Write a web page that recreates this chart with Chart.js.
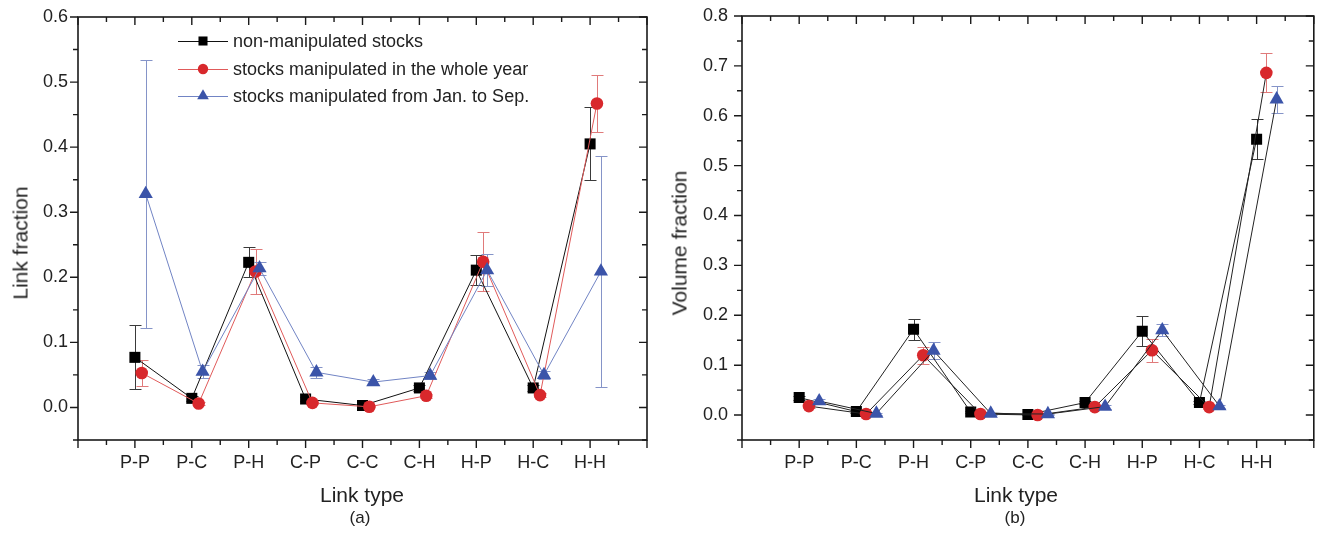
<!DOCTYPE html>
<html>
<head>
<meta charset="utf-8">
<script src="https://cdn.jsdelivr.net/npm/chart.js@4.4.1/dist/chart.umd.min.js"></script>
<style>
  body { margin: 0; background: #fff; width: 1322px; height: 535px; position: relative; overflow: hidden;
         font-family: "Liberation Sans", Arial, sans-serif; color: #222; }
  canvas { position: absolute; top: 0; }
  #chart-a { left: 0; }
  #chart-b { left: 660px; }
  .lbl { position: absolute; white-space: nowrap; line-height: 1; transform: translate(-50%, -50%); }
  .rot { transform: translate(-50%, -50%) rotate(-90deg); }
</style>
</head>
<body>
<canvas id="chart-a" width="660" height="535"></canvas>
<canvas id="chart-b" width="662" height="535"></canvas>

<div class="lbl rot" style="left:20px; top:243px; font-size:21px;">Link fraction</div>
<div class="lbl" style="left:362px; top:494px; font-size:21px;">Link type</div>
<div class="lbl" style="left:360px; top:517px; font-size:17px;">(a)</div>

<div class="lbl rot" style="left:679px; top:243px; font-size:21px;">Volume fraction</div>
<div class="lbl" style="left:1016px; top:494px; font-size:21px;">Link type</div>
<div class="lbl" style="left:1015px; top:517px; font-size:17px;">(b)</div>

<script>
const categories = ['P-P', 'P-C', 'P-H', 'C-P', 'C-C', 'C-H', 'H-P', 'H-C', 'H-H'];
const seriesNames = ['non-manipulated stocks', 'stocks manipulated in the whole year', 'stocks manipulated from Jan. to Sep.'];

// (a) link fraction, value and error per link type
const linkNon     = [0.077, 0.014, 0.223, 0.013, 0.003, 0.030, 0.211, 0.030, 0.405];
const linkNonErr  = [0.049, 0.004, 0.023, 0.003, 0.002, 0.004, 0.023, 0.004, 0.056];
const linkYear    = [0.053, 0.006, 0.209, 0.007, 0.001, 0.018, 0.224, 0.019, 0.467];
const linkYearErr = [0.020, 0.002, 0.034, 0.002, 0.001, 0.003, 0.045, 0.003, 0.044];
const linkSep     = [0.328, 0.055, 0.214, 0.054, 0.039, 0.049, 0.211, 0.050, 0.209];
const linkSepErr  = [0.206, 0.010, 0.010, 0.008, 0.004, 0.005, 0.025, 0.006, 0.177];

// (b) volume fraction
const volNon     = [0.035, 0.007, 0.172, 0.006, 0.001, 0.025, 0.168, 0.025, 0.553];
const volNonErr  = [0.004, 0.002, 0.021, 0.002, 0.001, 0.003, 0.030, 0.003, 0.040];
const volYear    = [0.018, 0.002, 0.120, 0.002, 0.000, 0.016, 0.130, 0.016, 0.686];
const volYearErr = [0.003, 0.001, 0.017, 0.001, 0.001, 0.003, 0.023, 0.003, 0.039];
const volSep     = [0.028, 0.003, 0.129, 0.003, 0.002, 0.017, 0.170, 0.018, 0.633];
const volSepErr  = [0.004, 0.002, 0.017, 0.002, 0.001, 0.004, 0.012, 0.003, 0.027];

const linkTicks = [0.0, 0.1, 0.2, 0.3, 0.4, 0.5, 0.6];
const volTicks  = [0.0, 0.1, 0.2, 0.3, 0.4, 0.5, 0.6, 0.7, 0.8];

// marker look for each series
const styles = [
  { shape: 'rect',     radius: 7.8, color: '#000000', err: '#3a3a3a' },
  { shape: 'circle',   radius: 6.3, color: '#d8282c', err: '#e07a7a' },
  { shape: 'triangle', radius: 8.2, color: '#3b54a9', err: '#8594c8' }
];
const FONT = '"Liberation Sans", Arial, sans-serif';

// vertical error bars with caps, under the lines and markers
const errorBars = {
  id: 'errorBars',
  beforeDatasetsDraw(chart) {
    const { ctx, scales: { x, y } } = chart;
    chart.data.datasets.forEach(ds => {
      ctx.save();
      ctx.strokeStyle = ds.errColor;
      ctx.lineWidth = 1;
      ds.data.forEach((p, i) => {
        const e = ds.errors[i];
        const px = Math.round(x.getPixelForValue(p.x)) + 0.5;
        const top = Math.round(y.getPixelForValue(p.y + e)) + 0.5;
        const bot = Math.round(y.getPixelForValue(p.y - e)) + 0.5;
        ctx.beginPath();
        ctx.moveTo(px, top); ctx.lineTo(px, bot);
        ctx.moveTo(px - 6, top); ctx.lineTo(px + 6, top);
        ctx.moveTo(px - 6, bot); ctx.lineTo(px + 6, bot);
        ctx.stroke();
      });
      ctx.restore();
    });
  }
};

// box round the plot, ticks on all four sides (out on bottom/left, in on top/right)
const frame = {
  id: 'frame',
  afterDraw(chart) {
    const { ctx, chartArea: { left, right, top, bottom }, scales: { x, y } } = chart;
    ctx.save();
    ctx.strokeStyle = '#1a1a1a';
    ctx.lineWidth = 1.6;
    ctx.strokeRect(left, top, right - left, bottom - top);
    ctx.lineWidth = 1.4;
    ctx.beginPath();
    x.ticks.forEach(t => {
      const px = x.getPixelForValue(t.value);
      const len = Number.isInteger(t.value) ? 8 : 5;
      ctx.moveTo(px, bottom); ctx.lineTo(px, bottom + len);
      ctx.moveTo(px, top); ctx.lineTo(px, top + len);
    });
    y.ticks.forEach(t => {
      const py = y.getPixelForValue(t.value);
      const len = t.label !== '' ? 8 : 5;
      ctx.moveTo(left, py); ctx.lineTo(left - len, py);
      ctx.moveTo(right, py); ctx.lineTo(right - len, py);
    });
    ctx.stroke();
    ctx.restore();
  }
};

function drawMarker(ctx, st, cx, cy, k) {
  const r = st.radius * k;
  ctx.fillStyle = st.color;
  ctx.beginPath();
  if (st.shape === 'rect') {
    const s = r * Math.SQRT1_2;
    ctx.rect(cx - s, cy - s, 2 * s, 2 * s);
  } else if (st.shape === 'circle') {
    ctx.arc(cx, cy, r, 0, Math.PI * 2);
  } else {
    ctx.moveTo(cx, cy - r);
    ctx.lineTo(cx + r * 0.866, cy + r / 2);
    ctx.lineTo(cx - r * 0.866, cy + r / 2);
    ctx.closePath();
  }
  ctx.fill();
}

// legend inside panel (a): line + marker + text
const legendBox = {
  id: 'legendBox',
  afterDraw(chart) {
    const ctx = chart.ctx;
    const rows = [41, 69, 96];
    ctx.save();
    ctx.font = '18px ' + FONT;
    ctx.textBaseline = 'middle';
    chart.data.datasets.forEach((ds, i) => {
      const yy = rows[i] + 0.5;
      ctx.strokeStyle = ds.borderColor;
      ctx.lineWidth = 1;
      ctx.beginPath();
      ctx.moveTo(178, yy); ctx.lineTo(228, yy);
      ctx.stroke();
      drawMarker(ctx, styles[i], 203, rows[i], 0.82);
      ctx.fillStyle = '#222';
      ctx.fillText(ds.label, 233, rows[i] + 1);
    });
    ctx.restore();
  }
};

// stop the tick labels from pushing the plot area around
function noLabelPadding(scale) {
  scale.paddingTop = 0;
  scale.paddingBottom = 0;
  scale.paddingLeft = 0;
  scale.paddingRight = 0;
}

function makeChart(id, opt) {
  const majors = opt.yTicks;
  const step = majors[1] - majors[0];
  const yMin = majors[0] - step / 2;
  const yMax = majors[majors.length - 1];

  const datasets = opt.values.map((vals, s) => ({
    label: seriesNames[s],
    data: vals.map((v, i) => ({ x: i + opt.shifts[s], y: v })),
    errors: opt.errors[s],
    errColor: styles[s].err,
    borderColor: opt.lineColors[s],
    borderWidth: 1,
    pointStyle: styles[s].shape,
    pointRadius: styles[s].radius,
    pointBackgroundColor: styles[s].color,
    pointBorderColor: styles[s].color,
    pointBorderWidth: 0,
    tension: 0,
    order: 3 - s
  }));

  return new Chart(document.getElementById(id), {
    type: 'line',
    data: { datasets },
    plugins: opt.plugins,
    options: {
      responsive: false,
      animation: false,
      events: [],
      layout: { padding: opt.padding },
      plugins: { legend: { display: false }, tooltip: { enabled: false } },
      scales: {
        x: {
          type: 'linear',
          min: -1,
          max: categories.length,
          afterBuildTicks(scale) {
            const t = [];
            for (let k = -2; k <= categories.length * 2; k++) t.push({ value: k / 2 });
            scale.ticks = t;
          },
          afterFit(scale) { scale.height = 95; noLabelPadding(scale); },
          grid: { display: false, drawTicks: false },
          border: { display: false },
          ticks: {
            autoSkip: false, maxRotation: 0, minRotation: 0, padding: 12,
            color: '#222', font: { family: FONT, size: 18 },
            callback: v => (Number.isInteger(v) && v >= 0 && v < categories.length) ? categories[v] : ''
          }
        },
        y: {
          min: yMin,
          max: yMax,
          afterBuildTicks(scale) {
            const t = [{ value: yMin }];
            majors.forEach((m, i) => {
              t.push({ value: m });
              if (i < majors.length - 1) t.push({ value: (m + majors[i + 1]) / 2 });
            });
            scale.ticks = t;
          },
          afterFit(scale) { scale.width = opt.yWidth; noLabelPadding(scale); },
          grid: { display: false, drawTicks: false },
          border: { display: false },
          ticks: {
            autoSkip: false, padding: opt.yPad,
            color: '#222', font: { family: FONT, size: 18 },
            callback: v => majors.some(m => Math.abs(m - v) < 1e-9) ? v.toFixed(1) : ''
          }
        }
      }
    }
  });
}

makeChart('chart-a', {
  values: [linkNon, linkYear, linkSep],
  errors: [linkNonErr, linkYearErr, linkSepErr],
  yTicks: linkTicks,
  shifts: [0, 0.12, 0.19],
  lineColors: ['#111111', '#e05a5a', '#7184c4'],
  padding: { left: 0, top: 17, right: 13, bottom: 0 },
  yWidth: 78,
  yPad: 10,
  plugins: [errorBars, frame, legendBox]
});

makeChart('chart-b', {
  values: [volNon, volYear, volSep],
  errors: [volNonErr, volYearErr, volSepErr],
  yTicks: volTicks,
  shifts: [0, 0.17, 0.35],
  lineColors: ['#222222', '#222222', '#222222'],
  padding: { left: 0, top: 16, right: 6, bottom: 0 },
  yWidth: 82,
  yPad: 14,
  plugins: [errorBars, frame]
});
</script>
</body>
</html>
